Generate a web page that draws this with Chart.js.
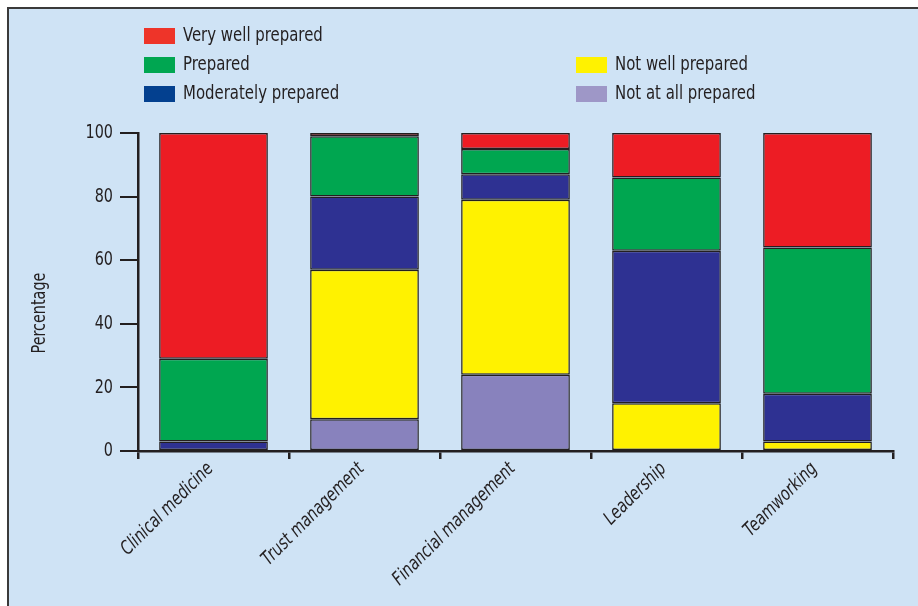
<!DOCTYPE html>
<html>
<head>
<meta charset="utf-8">
<script src="https://cdn.jsdelivr.net/npm/chart.js@4.4.1/dist/chart.umd.min.js"></script>
<style>
  body { margin: 0; background: #ffffff; }
  #wrap { position: relative; width: 918px; height: 606px; overflow: hidden; }
  #frame {
    position: absolute; left: 7px; top: 7px; width: 1000px; height: 700px;
    border: 2px solid #3a3a3a; background: #cfe3f5;
  }
  #chart { position: absolute; left: 0; top: 0; }
</style>
</head>
<body>
<div id="wrap">
  <div id="frame"></div>
  <canvas id="chart" width="918" height="606"></canvas>
</div>
<script>
"use strict";

const categories = [
  "Clinical medicine",
  "Trust management",
  "Financial management",
  "Leadership",
  "Teamworking",
];
const yTicks = [0, 20, 40, 60, 80, 100];

// stacked bottom to top
const notAtAllPrepared = [0, 10, 24, 0, 0];
const notWellPrepared = [0, 47, 55, 15, 3];
const moderatelyPrepared = [3, 23, 8, 48, 15];
const prepared = [26, 19, 8, 23, 46];
const veryWellPrepared = [71, 1, 5, 14, 36];

const seriesNames = [
  "Not at all prepared",
  "Not well prepared",
  "Moderately prepared",
  "Prepared",
  "Very well prepared",
];
const barColors = ["#8882bd", "#fff200", "#2e3192", "#00a650", "#ed1c24"];
const legendColors = ["#9e97c7", "#fff200", "#03408f", "#00a651", "#ee3429"];

const ink = "#231f20";
const fontFamily = '"DejaVu Sans Condensed", "DejaVu Sans", sans-serif';

// legend layout: [series index, x, y]
const legendSlots = [
  [4, 144, 28],
  [3, 144, 57],
  [2, 144, 86],
  [1, 576, 57],
  [0, 576, 86],
];

// the original face is a narrow one, so text is squeezed sideways
function narrowText(ctx, text, x, y, opts) {
  ctx.save();
  ctx.font = opts.font;
  ctx.textAlign = opts.align || "left";
  ctx.textBaseline = opts.baseline || "middle";
  ctx.fillStyle = ink;
  ctx.translate(x, y);
  if (opts.angle) ctx.rotate(opts.angle);
  ctx.scale(opts.squeeze, 1);
  ctx.fillText(text, 0, 0);
  ctx.restore();
}

const textPlugin = {
  id: "narrowTexts",
  afterDraw(chart) {
    const ctx = chart.ctx;
    const xScale = chart.scales.x;
    const yScale = chart.scales.y;

    legendSlots.forEach(([i, x, y]) => {
      ctx.fillStyle = legendColors[i];
      ctx.fillRect(x, y, 31, 16);
      narrowText(ctx, seriesNames[i], x + 39, y + 8, {
        font: "20px " + fontFamily,
        squeeze: 0.83,
      });
    });

    yTicks.forEach((v) => {
      narrowText(ctx, String(v), 113, yScale.getPixelForValue(v), {
        font: "20px " + fontFamily,
        align: "right",
        squeeze: 0.8,
      });
    });

    categories.forEach((c, i) => {
      narrowText(ctx, c, xScale.getPixelForValue(i) - 3, xScale.top + 15, {
        font: "italic 19px " + fontFamily,
        align: "right",
        angle: -Math.PI / 4,
        squeeze: 0.84,
      });
    });

    narrowText(ctx, "Percentage", 40, 313, {
      font: "20px " + fontFamily,
      align: "center",
      angle: -Math.PI / 2,
      squeeze: 0.8,
    });
  },
};

const allSeries = [
  notAtAllPrepared,
  notWellPrepared,
  moderatelyPrepared,
  prepared,
  veryWellPrepared,
];

new Chart(document.getElementById("chart").getContext("2d"), {
  type: "bar",
  data: {
    labels: categories,
    datasets: allSeries.map((values, i) => ({
      label: seriesNames[i],
      data: values,
      backgroundColor: barColors[i],
      borderColor: ink,
      borderWidth: 1.5,
      borderSkipped: false,
      barPercentage: 0.72,
      categoryPercentage: 1,
    })),
  },
  options: {
    responsive: false,
    animation: false,
    layout: { padding: { left: 25, top: 133, right: 25, bottom: 0 } },
    plugins: {
      legend: { display: false },
      tooltip: { enabled: false },
    },
    scales: {
      x: {
        stacked: true,
        offset: true,
        grid: {
          offset: true,
          drawOnChartArea: false,
          drawTicks: true,
          tickLength: 8,
          color: ink,
          lineWidth: 2.5,
        },
        border: { display: true, color: ink, width: 2.5 },
        ticks: { display: false },
        afterFit(scale) {
          scale.height = 155;
        },
      },
      y: {
        stacked: true,
        min: 0,
        max: 100,
        afterBuildTicks(scale) {
          scale.ticks = yTicks.map((v) => ({ value: v }));
        },
        grid: {
          drawOnChartArea: false,
          drawTicks: true,
          tickLength: 18,
          color: ink,
          lineWidth: 2,
        },
        border: { display: true, color: ink, width: 2.5 },
        ticks: { display: false },
        afterFit(scale) {
          scale.width = 113;
        },
      },
    },
  },
  plugins: [textPlugin],
});
</script>
</body>
</html>
